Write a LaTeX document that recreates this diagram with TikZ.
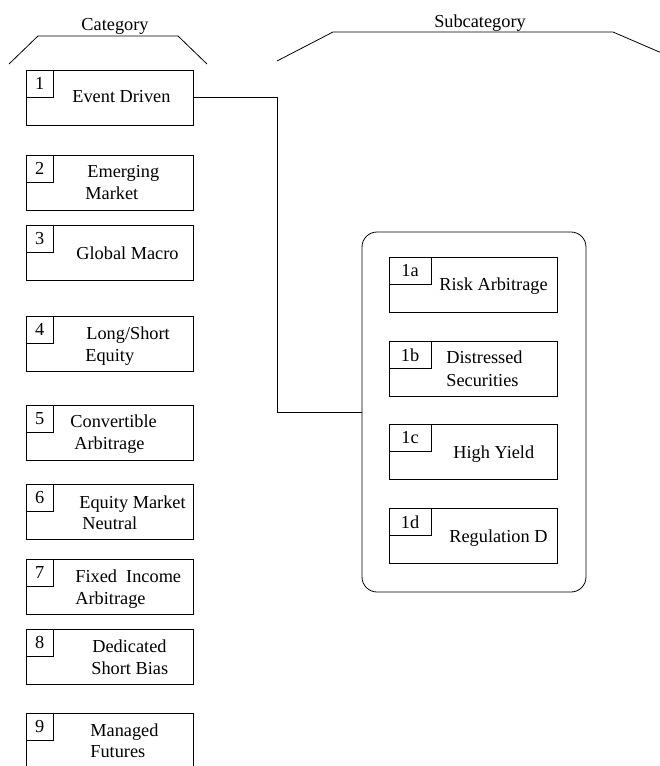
\documentclass[tikz,border=0pt]{standalone}
\usepackage{fontspec}
\setmainfont{Liberation Serif}
\begin{document}
\begin{tikzpicture}[x=1pt, y=-1pt, line width=0.8pt,
  every node/.style={font=\fontsize{18.3}{21}\selectfont},
  catbox/.style={draw, rectangle, minimum width=167.5pt, minimum height=55.5pt,
                 inner sep=0pt, outer sep=0pt, anchor=north west},
  numbox/.style={draw, rectangle, minimum width=27.5pt, minimum height=27.5pt,
                 inner sep=0pt, outer sep=0pt, anchor=north west},
  subbox/.style={draw, rectangle, minimum width=168pt, minimum height=55.5pt,
                 inner sep=0pt, outer sep=0pt, anchor=north west},
  subnum/.style={draw, rectangle, minimum width=42pt, minimum height=27.5pt,
                 inner sep=0pt, outer sep=0pt, anchor=north west},
  groupbox/.style={draw, rectangle, rounded corners=15pt, minimum width=224pt,
                 minimum height=360pt, inner sep=0pt, outer sep=0pt, anchor=north west},
  lbl/.style={inner sep=0pt, anchor=base west},
  title/.style={inner sep=0pt, anchor=base}
]
\useasboundingbox (0,0) rectangle (660,766);
\clip (0,0) rectangle (660,766);

% column headings
\node[title] (cattitle) at (115,30) {Category};
\draw (9,64) -- (38,36) -- (178,36) -- (207,64);
\node[title] (subtitle) at (480,27) {Subcategory};
\draw (277,61) -- (333,32) -- (613,32) -- (664,54);

% categories
\node[catbox] (c1) at (26,70)  {};
\node[catbox] (c2) at (26,155) {};
\node[catbox] (c3) at (26,225) {};
\node[catbox] (c4) at (26,316) {};
\node[catbox] (c5) at (26,405) {};
\node[catbox] (c6) at (26,484) {};
\node[catbox] (c7) at (26,559) {};
\node[catbox] (c8) at (26,629) {};
\node[catbox] (c9) at (26,713) {};

\foreach \i in {1,...,9}
  \node[numbox] (n\i) at (c\i.north west) {\i};

\node[lbl] (t1)  at (72,102)    {Event Driven};
\node[lbl] (t2a) at (87,177.5)  {Emerging};
\node[lbl] (t2b) at (85,199)    {Market};
\node[lbl] (t3)  at (76,259)    {Global Macro};
\node[lbl] (t4a) at (86,339.5)  {Long/Short};
\node[lbl] (t4b) at (85,361)    {Equity};
\node[lbl] (t5a) at (70,427.5)  {Convertible};
\node[lbl] (t5b) at (74,449.5)  {Arbitrage};
\node[lbl] (t6a) at (79,508.5)  {Equity Market};
\node[lbl] (t6b) at (82,529.5)  {Neutral};
\node[lbl] (t7a) at (75,582.5)  {Fixed\ \ Income};
\node[lbl] (t7b) at (75,604)    {Arbitrage};
\node[lbl] (t8a) at (92,652.5)  {Dedicated};
\node[lbl] (t8b) at (91,674.5)  {Short Bias};
\node[lbl] (t9a) at (90,736)    {Managed};
\node[lbl] (t9b) at (90,757.5)  {Futures};

% subcategories of Event Driven
\node[groupbox] (grp) at (362,232) {};

\node[subbox] (s1) at (389,257) {};
\node[subbox] (s2) at (389,341) {};
\node[subbox] (s3) at (389,424) {};
\node[subbox] (s4) at (389,508) {};

\node[subnum] (m1) at (s1.north west) {1a};
\node[subnum] (m2) at (s2.north west) {1b};
\node[subnum] (m3) at (s3.north west) {1c};
\node[subnum] (m4) at (s4.north west) {1d};

\node[lbl] (u1)  at (439,290.5) {Risk Arbitrage};
\node[lbl] (u2a) at (446,363.5) {Distressed};
\node[lbl] (u2b) at (446,386)   {Securities};
\node[lbl] (u3)  at (453,458)   {High Yield};
\node[lbl] (u4)  at (449,542.5) {Regulation D};

% link from the category to its subcategories
\coordinate (bend) at (277,97.75);
\draw (c1.east) -- (bend) |- (grp.west);
\end{tikzpicture}
\end{document}
